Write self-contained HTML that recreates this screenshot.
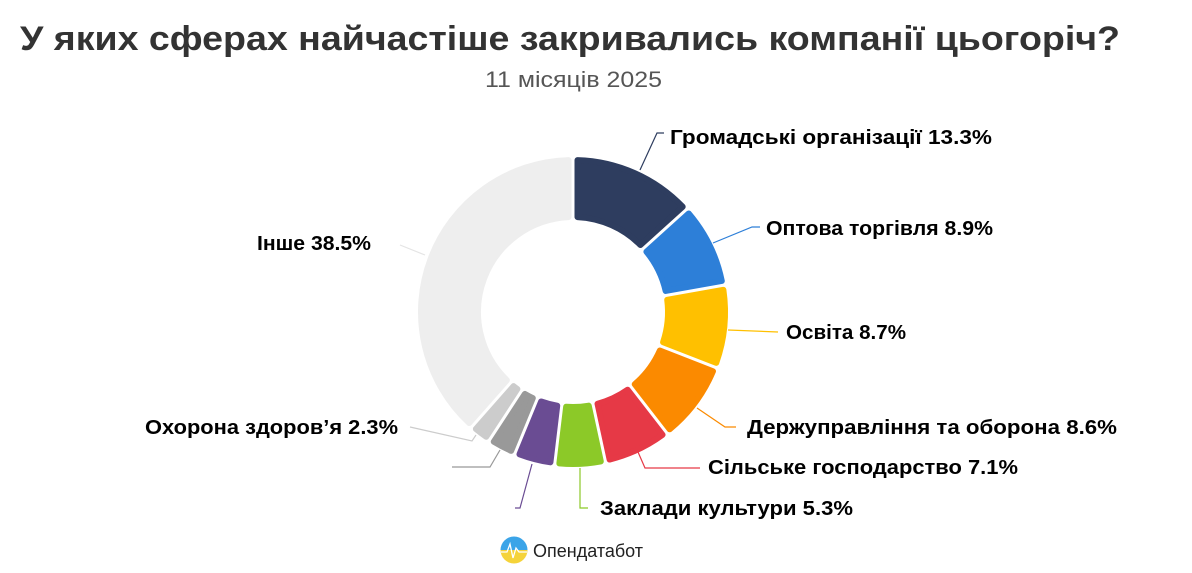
<!DOCTYPE html>
<html><head><meta charset="utf-8"><style>
html,body{margin:0;padding:0;background:#fff;}
svg{display:block;font-family:"Liberation Sans",sans-serif;}
.l{font-size:20px;font-weight:bold;fill:#000;}
</style></head><body>
<svg id="s" width="1192" height="573" viewBox="0 0 1192 573">
<text x="20" y="50" font-size="34" font-weight="bold" fill="#333" textLength="1100" lengthAdjust="spacingAndGlyphs">У яких сферах найчастіше закривались компанії цьогоріч?</text>
<text x="485" y="87" font-size="22" fill="#555" textLength="177" lengthAdjust="spacingAndGlyphs">11 місяців 2025</text>
<g id="d"></g>
<g fill="none" stroke-width="1.2">
<polyline points="640,170 657,133 664,133" stroke="#2e3d5f"/>
<polyline points="713,243 752,227 760,227" stroke="#2d7fd8"/>
<polyline points="728,330 778,332" stroke="#ffc000"/>
<polyline points="697,408 725,427 736,427" stroke="#fb8a00"/>
<polyline points="638,452 645,468 700,468" stroke="#e63946"/>
<polyline points="580,468 580,508 588,508" stroke="#8cc928"/>
<polyline points="532,464 520,508 515,508" stroke="#6a4c93"/>
<polyline points="500,450 490,467 452,467" stroke="#999"/>
<polyline points="476,435 472,441 410,427" stroke="#ccc"/>
<polyline points="425,255 400,245" stroke="#e4e4e4"/>
</g>
<text class="l" x="670" y="144" textLength="322" lengthAdjust="spacingAndGlyphs">Громадські організації 13.3%</text>
<text class="l" x="766" y="235" textLength="227" lengthAdjust="spacingAndGlyphs">Оптова торгівля 8.9%</text>
<text class="l" x="786" y="339" textLength="120" lengthAdjust="spacingAndGlyphs">Освіта 8.7%</text>
<text class="l" x="747" y="434" textLength="370" lengthAdjust="spacingAndGlyphs">Держуправління та оборона 8.6%</text>
<text class="l" x="708" y="474" textLength="310" lengthAdjust="spacingAndGlyphs">Сільське господарство 7.1%</text>
<text class="l" x="600" y="515" textLength="253" lengthAdjust="spacingAndGlyphs">Заклади культури 5.3%</text>
<text class="l" x="145" y="434" textLength="253" lengthAdjust="spacingAndGlyphs">Охорона здоров’я 2.3%</text>
<text class="l" x="257" y="250" textLength="114" lengthAdjust="spacingAndGlyphs">Інше 38.5%</text>
<defs><linearGradient id="lg" x1="0" y1="0" x2="0" y2="1"><stop offset="0.5" stop-color="#3ba4e8"/><stop offset="0.5" stop-color="#f5d33a"/></linearGradient></defs>
<circle cx="514" cy="550" r="13.5" fill="url(#lg)"/>
<polyline points="501,552 507,552 510,544 513,558 516,548 519,552 527,552" fill="none" stroke="#fff" stroke-width="1.3"/>
<text x="533" y="557" font-size="18" fill="#222">Опендатабот</text>
</svg>
<script>
var cx=573,cy=312,R=155,r=92;
var data=[[13.3,"#2e3d5f"],[8.9,"#2d7fd8"],[8.7,"#ffc000"],[8.6,"#fb8a00"],[7.1,"#e63946"],[5.3,"#8cc928"],[4.3,"#6a4c93"],[3.0,"#999999"],[2.3,"#cccccc"],[38.5,"#eeeeee"]];
var tot=data.reduce(function(a,b){return a+b[0]},0),a=0,g=document.getElementById('d'),h="";
function p(rad,ang){return (cx+rad*Math.sin(ang)).toFixed(2)+","+(cy-rad*Math.cos(ang)).toFixed(2);}
data.forEach(function(d){
 var a0=a/tot*2*Math.PI,a1=(a+d[0])/tot*2*Math.PI;a+=d[0];
 var R2=R-3,r2=r+3,po=4.5/R2,pi=4.5/r2;
 var o0=a0+po,o1=a1-po,i0=a0+pi,i1=a1-pi;
 var lg=(a1-a0)>Math.PI?1:0;
 h+='<path d="M'+p(R2,o0)+' A'+R2+','+R2+' 0 '+lg+' 1 '+p(R2,o1)+' L'+p(r2,i1)+' A'+r2+','+r2+' 0 '+lg+' 0 '+p(r2,i0)+' Z" fill="'+d[1]+'" stroke="'+d[1]+'" stroke-width="6" stroke-linejoin="round"/>';
});
g.innerHTML=h;
</script>
</body></html>
